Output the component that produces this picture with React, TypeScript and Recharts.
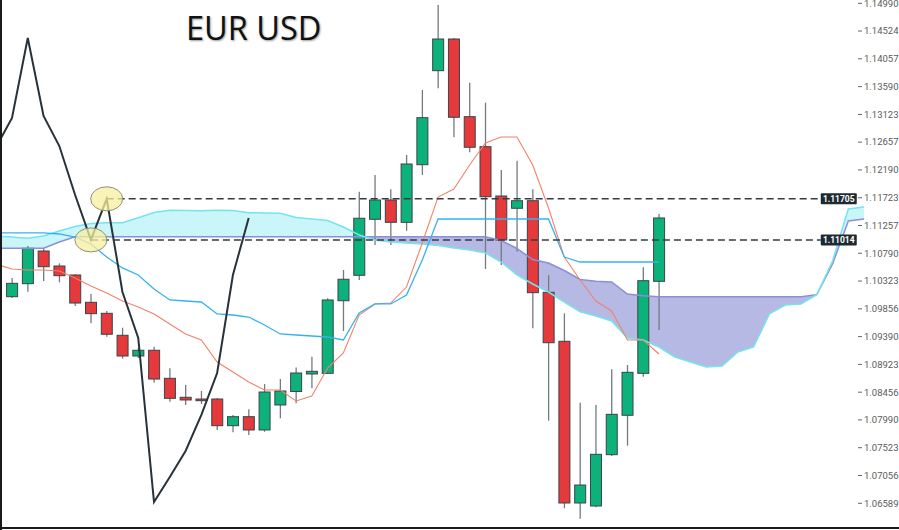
import React from 'react';
import { ComposedChart, Bar, Line, Area, XAxis, YAxis, ReferenceLine, ReferenceDot } from 'recharts';

// period index; -1 and 43..54 are outside the candle range (lagging / leading spans)
const periods = [
  -1, 0, 1, 2, 3, 4, 5, 6, 7, 8, 9, 10, 11, 12, 13, 14, 15, 16, 17, 18, 19, 20, 21, 22, 23, 24, 25, 26, 27,
  28, 29, 30, 31, 32, 33, 34, 35, 36, 37, 38, 39, 40, 41, 42, 43, 44, 45, 46, 47, 48, 49, 50, 51, 52, 53, 54,
];

// candles, period 0..41
const opens = [
  1.1006, 1.10279, 1.10828, 1.10576, 1.10425, 1.09966, 1.09781, 1.09412, 1.09064, 1.0916, 1.08689, 1.0837,
  1.08341, 1.08341, 1.07893, 1.08044, 1.07821, 1.08241, 1.08467, 1.08762, 1.08773, 1.09993, 1.1042, 1.11361,
  1.11685, 1.1131, 1.12278, 1.13858, 1.1439, 1.13085, 1.12581, 1.11752, 1.11546, 1.11673, 1.10134, 1.09311,
  1.06594, 1.06544, 1.07406, 1.08068, 1.08773, 1.10319,
];
const highs = [
  1.10374, 1.10912, 1.10874, 1.10621, 1.10437, 1.10106, 1.0982, 1.09539, 1.09198, 1.0922, 1.08857, 1.08577,
  1.08476, 1.08358, 1.08073, 1.08168, 1.08593, 1.08677, 1.08871, 1.09052, 1.10033, 1.10509, 1.11825, 1.12105,
  1.11865, 1.12441, 1.13533, 1.14961, 1.14407, 1.13656, 1.1332, 1.12189, 1.12345, 1.11865, 1.10425, 1.09781,
  1.08279, 1.08241, 1.0884, 1.08913, 1.10554, 1.1145,
];
const lows = [
  1.10038, 1.10144, 1.10324, 1.10302, 1.09904, 1.09613, 1.09388, 1.09019, 1.0903, 1.08615, 1.08296, 1.08241,
  1.08257, 1.07821, 1.07782, 1.07737, 1.07792, 1.08017, 1.08269, 1.08521, 1.08762, 1.09484, 1.10341, 1.10929,
  1.10929, 1.11169, 1.12105, 1.13562, 1.12739, 1.12487, 1.10526, 1.10593, 1.10816, 1.09529, 1.07977, 1.06505,
  1.0633, 1.06522, 1.07384, 1.07557, 1.08716, 1.09501,
];
const closes = [
  1.10285, 1.10874, 1.10564, 1.10413, 1.09954, 1.09775, 1.09429, 1.09064, 1.0916, 1.08677, 1.08353, 1.08325,
  1.08313, 1.07893, 1.08044, 1.07821, 1.08459, 1.08476, 1.08778, 1.08807, 1.10005, 1.10353, 1.11378, 1.11685,
  1.1131, 1.1229, 1.13068, 1.1439, 1.13075, 1.12571, 1.1174, 1.11013, 1.11673, 1.10128, 1.09287, 1.06594,
  1.06896, 1.07412, 1.08084, 1.0879, 1.10329, 1.11383,
];

// period -1..41
const tenkan = [
  1.10605, 1.10526, 1.10509, 1.10509, 1.10492, 1.10374, 1.1024, 1.10122, 1.09988, 1.09887, 1.0977, 1.09602,
  1.09434, 1.09333, 1.08963, 1.08795, 1.08627, 1.08493, 1.08493, 1.08308, 1.08392, 1.08862, 1.09114, 1.09753,
  1.09938, 1.09954, 1.10223, 1.10963, 1.11735, 1.1187, 1.12273, 1.12643, 1.12744, 1.12744, 1.12273, 1.11551,
  1.10727, 1.10341, 1.09988, 1.0982, 1.09333, 1.09333, 1.09098,
];
const kijun = [
  1.11131, 1.11131, 1.11131, 1.11131, 1.11114, 1.11063, 1.10946, 1.10727, 1.10543, 1.10425, 1.1019, 1.10005,
  1.09988, 1.09971, 1.0977, 1.09753, 1.09719, 1.09585, 1.09434, 1.09417, 1.094, 1.09383, 1.09333, 1.09786,
  1.09938, 1.09938, 1.10089, 1.10677, 1.11366, 1.11366, 1.11366, 1.11366, 1.11366, 1.11366, 1.11366, 1.11366,
  1.10727, 1.10643, 1.10643, 1.10643, 1.10643, 1.10643, 1.10643,
];

// lagging line, period -1..15
const chikou = [
  1.12581, 1.13063, 1.14407, 1.13096, 1.12592, 1.11769, 1.11014, 1.11705, 1.10139, 1.09366, 1.06611, 1.07031,
  1.07468, 1.08073, 1.08778, 1.10425, 1.11383,
];

// cloud spans, period -1..54
const senkouA = [
  1.1108, 1.11063, 1.11041, 1.1108, 1.11164, 1.1124, 1.1129, 1.11304, 1.11304, 1.11386, 1.11475, 1.11512,
  1.11509, 1.11505, 1.11512, 1.11509, 1.11472, 1.11467, 1.11462, 1.11391, 1.11366, 1.11341, 1.11231, 1.11097,
  1.11013, 1.10979, 1.10963, 1.10946, 1.10921, 1.10879, 1.10845, 1.10795, 1.10643, 1.10425, 1.10274, 1.10139,
  1.09971, 1.09808, 1.09736, 1.09652, 1.09366, 1.09333, 1.09215, 1.09047, 1.08963, 1.08879, 1.08896, 1.09131,
  1.09215, 1.0977, 1.09921, 1.09938, 1.10095, 1.1066, 1.11534, 1.11567,
];
const senkouB = [
  1.10874, 1.10874, 1.10874, 1.10874, 1.10979, 1.11068, 1.11068, 1.11068, 1.11068, 1.11068, 1.11068, 1.11068,
  1.11068, 1.11068, 1.11068, 1.11068, 1.11068, 1.11068, 1.11068, 1.11068, 1.11068, 1.11068, 1.11068, 1.11068,
  1.11068, 1.11068, 1.11068, 1.11068, 1.11068, 1.11068, 1.11068, 1.11068, 1.11005, 1.1087, 1.10685, 1.10627,
  1.105, 1.10349, 1.10321, 1.10307, 1.10106, 1.10075, 1.1006, 1.1006, 1.1006, 1.1006, 1.1006, 1.1006, 1.1006,
  1.1006, 1.1006, 1.1006, 1.10095, 1.1061, 1.11332, 1.11366,
];

const priceTicks = [
  1.06589, 1.07056, 1.07523, 1.0799, 1.08456, 1.08923, 1.0939, 1.09856, 1.10323, 1.1079, 1.11257, 1.11723,
  1.1219, 1.12657, 1.13123, 1.1359, 1.14057, 1.14524, 1.1499,
];

const markedLevels = [1.11705, 1.11014];
const markedStarts = [6, 5];

const data = periods.map((p, k) => {
  const row: any = { p };
  if (p >= 0 && p < opens.length) {
    row.o = opens[p];
    row.h = highs[p];
    row.l = lows[p];
    row.c = closes[p];
    row.range = [lows[p], highs[p]];
  }
  if (k < tenkan.length) row.tenkan = tenkan[k];
  if (k < kijun.length) row.kijun = kijun[k];
  if (k < chikou.length) row.chikou = chikou[k];
  const a = senkouA[k];
  const b = senkouB[k];
  row.a = a;
  row.b = b;
  row.bull = a >= b ? [b, a] : [a, a];
  row.bear = b > a ? [a, b] : [b, b];
  return row;
});

const Candle = (props: any) => {
  const { x, y, width, height, payload } = props;
  if (payload == null || payload.o == null) return null;
  const top = Math.min(y, y + height);
  const span = Math.abs(height);
  const { o, h, l, c } = payload;
  const toY = (v: number) => top + (span * (h - v)) / (h - l);
  const cx = x + width / 2;
  const bodyTop = toY(Math.max(o, c));
  const bodyBot = toY(Math.min(o, c));
  const up = c >= o;
  return (
    <g>
      <line x1={cx} x2={cx} y1={top} y2={top + span} stroke="#737b80" strokeWidth={1.3} />
      <rect
        x={x + 0.5}
        y={bodyTop}
        width={width - 1}
        height={Math.max(bodyBot - bodyTop, 1.5)}
        fill={up ? '#0db27b' : '#e5393b'}
        stroke="#3a4449"
        strokeWidth={1}
      />
    </g>
  );
};

const PriceTick = (props: any) => {
  const { x, y, payload } = props;
  return (
    <g>
      <line x1={x + 1} x2={x + 5} y1={y} y2={y} stroke="#666" strokeWidth={1} />
      <text x={x + 7} y={y} dy="0.35em" fontSize={9.5} fill="#5b5b5b" fontFamily="Roboto, sans-serif">
        {Number(payload.value).toFixed(5)}
      </text>
    </g>
  );
};

const levelShape = (value: number) => (props: any) => {
  const { x1, y1, x2 } = props;
  const boxX = x2 + 4;
  return (
    <g>
      <line x1={x1} x2={boxX} y1={y1} y2={y1} stroke="#323c42" strokeWidth={1.6} strokeDasharray="7 4" />
      <rect x={boxX} y={y1 - 5.5} width={36} height={11} fill="#1e2a31" rx={1} />
      <text
        x={boxX + 18}
        y={y1}
        dy="0.35em"
        textAnchor="middle"
        fontSize={8.5}
        fontWeight="bold"
        fill="#ffffff"
        fontFamily="Roboto, sans-serif"
      >
        {value.toFixed(5)}
      </text>
    </g>
  );
};

const Ellipse = (props: any) => (
  <ellipse
    cx={props.cx}
    cy={props.cy}
    rx={16}
    ry={12}
    fill="#f7ef9f"
    fillOpacity={0.75}
    stroke="#8f8f7a"
    strokeWidth={1}
  />
);

export default function App() {
  return (
    <div style={{ position: 'absolute', left: 0, top: 0, width: 899, height: 530, background: '#fff' }}>
      <ComposedChart width={899} height={530} data={data} margin={{ top: 0, right: 0, bottom: 3, left: 4 }}>
        <XAxis dataKey="p" type="category" hide padding={{ left: -15.67, right: -15 }} />
        <YAxis
          orientation="right"
          width={42}
          domain={[1.061907, 1.150454]}
          allowDataOverflow
          ticks={priceTicks}
          interval={0}
          axisLine={false}
          tickLine={false}
          tickSize={0}
          tickMargin={0}
          tick={<PriceTick />}
        />
        <Bar dataKey="range" barSize={12} shape={<Candle />} isAnimationActive={false} />
        <Area
          dataKey="bull"
          type="linear"
          stroke="none"
          fill="#3fe0ea"
          fillOpacity={0.28}
          isAnimationActive={false}
          activeDot={false}
        />
        <Area
          dataKey="bear"
          type="linear"
          stroke="none"
          fill="#5c64c0"
          fillOpacity={0.45}
          isAnimationActive={false}
          activeDot={false}
        />
        <Line dataKey="b" stroke="#8b90d6" strokeWidth={1.5} dot={false} activeDot={false} isAnimationActive={false} />
        <Line dataKey="a" stroke="#74e4ee" strokeWidth={1.5} dot={false} activeDot={false} isAnimationActive={false} />
        <Line dataKey="tenkan" stroke="#f2826b" strokeWidth={1.1} dot={false} activeDot={false} isAnimationActive={false} />
        <Line dataKey="kijun" stroke="#35b2ee" strokeWidth={1.3} dot={false} activeDot={false} isAnimationActive={false} />
        <Line dataKey="chikou" stroke="#27323a" strokeWidth={2} dot={false} activeDot={false} isAnimationActive={false} />
        {markedLevels.map((lvl, i) => (
          <ReferenceDot key={`e-${i}`} x={markedStarts[i]} y={lvl} shape={<Ellipse />} ifOverflow="visible" />
        ))}
        {markedLevels.map((lvl, i) => (
          <ReferenceLine
            key={`l-${i}`}
            segment={[
              { x: markedStarts[i], y: lvl },
              { x: 51, y: lvl },
            ]}
            ifOverflow="visible"
            shape={levelShape(lvl)}
          />
        ))}
      </ComposedChart>
      <div
        style={{
          position: 'absolute',
          left: 186,
          top: 12,
          fontFamily: '"Open Sans", sans-serif',
          fontSize: 32.5,
          lineHeight: 1,
          color: '#111',
          textShadow: '1px 1px 2px rgba(0,0,0,0.4)',
          whiteSpace: 'nowrap',
        }}
      >
        EUR USD
      </div>
      <div style={{ position: 'absolute', left: 0, top: 0, width: 2, height: 530, background: '#1a1a1a' }} />
      <div style={{ position: 'absolute', left: 0, top: 527, width: 899, height: 2, background: '#1a1a1a' }} />
    </div>
  );
}
